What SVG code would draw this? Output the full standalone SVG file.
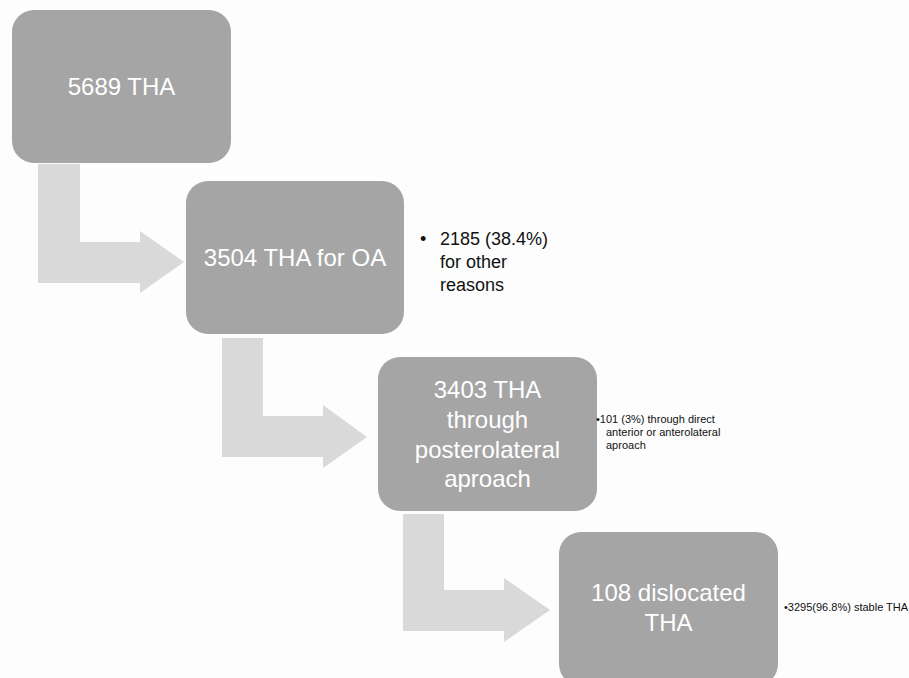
<svg xmlns="http://www.w3.org/2000/svg" width="909" height="678" viewBox="0 0 909 678">
<style>
.box{fill:#a5a5a5;}
.arrow{fill:#d9d9d9;}
.main{font-family:"Liberation Sans",Arial,sans-serif;font-size:24px;fill:#ffffff;text-anchor:middle;}
.note{font-family:"Liberation Sans",Arial,sans-serif;fill:#111111;}
</style>
<rect x="0" y="0" width="909" height="678" fill="#fdfdfd"/>
<g id="connectors">
<polygon class="arrow" points="38,164 80,164 80,242 140,242 140,231 184,262 140,293 140,283 38,283"/>
<polygon class="arrow" points="222,338 263,338 263,416 323,416 323,405 367,437 323,468 323,457 222,457"/>
<polygon class="arrow" points="403,514 444,514 444,590 504,590 504,578 550,610 504,642 504,631 403,631"/>
</g>
<g id="node1">
<rect class="box" x="12" y="10" width="219" height="153" rx="22"/>
<text class="main" x="121.5" y="95">5689 THA</text>
</g>
<g id="node2">
<rect class="box" x="186" y="181" width="218" height="153" rx="22"/>
<text class="main" x="295" y="266">3504 THA for OA</text>
</g>
<g id="note2">
<text class="note" font-size="18"><tspan x="420" y="245">•</tspan><tspan x="440" y="245">2185 (38.4%)</tspan><tspan x="440" y="268">for other</tspan><tspan x="440" y="291">reasons</tspan></text>
</g>
<g id="node3">
<rect class="box" x="378" y="357" width="219" height="154" rx="22"/>
<text class="main" x="487.5" y="398">3403 THA</text>
<text class="main" x="487.5" y="428">through</text>
<text class="main" x="487.5" y="458">posterolateral</text>
<text class="main" x="487.5" y="487">aproach</text>
</g>
<g id="note3">
<text class="note" font-size="11"><tspan x="596" y="423">•101 (3%) through direct</tspan><tspan x="606" y="436">anterior or anterolateral</tspan><tspan x="606" y="449">aproach</tspan></text>
</g>
<g id="node4">
<rect class="box" x="559" y="532" width="219" height="154" rx="22"/>
<text class="main" x="668.5" y="601">108 dislocated</text>
<text class="main" x="668.5" y="631">THA</text>
</g>
<g id="note4">
<text class="note" font-size="11" x="784" y="611">•3295(96.8%) stable THA</text>
</g>
</svg>
